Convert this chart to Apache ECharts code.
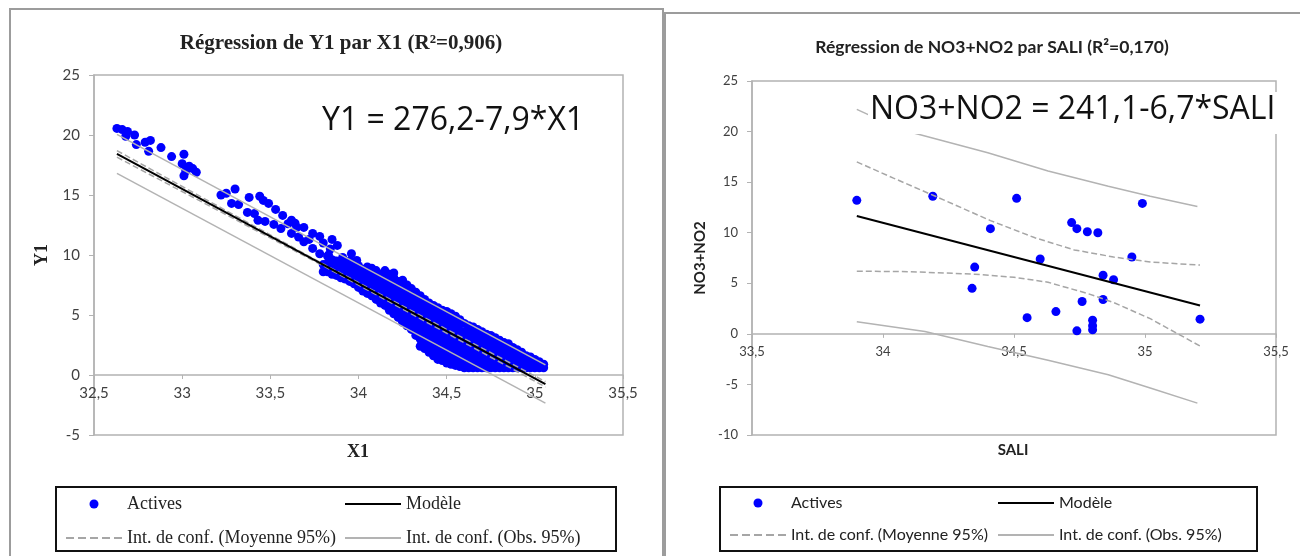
<!DOCTYPE html>
<html>
<head>
<meta charset="utf-8">
<script src="https://cdn.jsdelivr.net/npm/echarts@6/dist/echarts.min.js"></script>
<style>
  body { margin: 0; background: #fff; }
  #left { position: absolute; left: 0; top: 0; width: 664px; height: 556px; }
  #right { position: absolute; left: 663px; top: 0; width: 637px; height: 556px; }
</style>
</head>
<body>
<div id="left"></div>
<div id="right"></div>
<script>
// left chart : Y1 vs X1
var xTicksLeft = [32.5, 35.5, 0.5];
var yTicksLeft = [-5, 25, 5];
var activesLeft = [
  [32.63,20.55],[32.66,20.45],[32.69,20.3],[32.68,19.9],[32.73,20.0],[32.74,19.2],[32.79,19.4],[32.82,19.55],
  [32.81,18.65],[32.88,18.95],[32.94,18.2],[33.01,18.4],[33.0,17.6],[33.02,17.0],[33.01,16.6],[33.06,17.2],
  [33.08,16.9],[33.04,17.4],
  [33.22,15.0],[33.25,15.15],[33.30,15.5],[33.28,14.3],[33.32,14.2],[33.38,14.8],[33.44,14.9],[33.37,13.55],
  [33.41,13.45],[33.46,14.55],[33.49,14.3],[33.53,13.8],[33.43,12.9],[33.47,12.8],[33.52,12.55],[33.57,13.3],
  [33.62,12.9],[33.64,12.65],[33.65,12.3],[33.69,12.3],[33.62,11.8],[33.66,11.5],[33.74,11.8],[33.78,11.55],
  [33.85,11.3],[33.88,10.8],[33.80,11.0],[33.69,11.1],[33.74,10.55],[33.78,10.1],[33.83,10.0],[33.91,9.8],
  [33.96,10.1],[33.99,9.55],[33.56,12.2],[33.60,12.6],[33.72,11.3],[33.84,10.5],
  [33.80,8.6],[33.80,9.2],
  [33.825,8.6],[33.825,9.3],[33.825,9.9],
  [33.85,8.4],[33.85,9.0],[33.85,9.6],
  [33.875,8.3],[33.875,8.9],[33.875,9.5],
  [33.90,8.1],[33.90,8.7],[33.90,9.3],
  [33.925,8.0],[33.925,8.6],[33.925,9.2],
  [33.95,7.8],[33.95,8.4],[33.95,9.0],[33.95,9.5],
  [33.975,7.6],[33.975,8.2],[33.975,8.8],[33.975,9.4],
  [34.00,7.3],[34.00,7.9],[34.00,8.5],[34.00,9.1],
  [34.025,7.0],[34.025,7.6],[34.025,8.2],[34.025,8.8],
  [34.05,6.8],[34.05,7.4],[34.05,8.0],[34.05,8.6],[34.05,9.0],
  [34.075,6.6],[34.075,7.2],[34.075,7.8],[34.075,8.4],[34.075,8.9],
  [34.10,6.3],[34.10,6.9],[34.10,7.5],[34.10,8.1],[34.10,8.7],
  [34.125,6.0],[34.125,6.6],[34.125,7.2],[34.125,7.8],[34.125,8.4],
  [34.15,5.8],[34.15,6.4],[34.15,7.0],[34.15,7.6],[34.15,8.2],[34.15,8.7],
  [34.175,5.4],[34.175,6.0],[34.175,6.6],[34.175,7.2],[34.175,7.8],[34.175,8.4],
  [34.20,5.1],[34.20,5.7],[34.20,6.3],[34.20,6.9],[34.20,7.5],[34.20,8.1],[34.20,8.5],
  [34.225,4.8],[34.225,5.4],[34.225,6.0],[34.225,6.6],[34.225,7.2],[34.225,7.8],
  [34.25,4.4],[34.25,5.0],[34.25,5.6],[34.25,6.2],[34.25,6.8],[34.25,7.4],[34.25,7.9],
  [34.275,4.1],[34.275,4.7],[34.275,5.3],[34.275,5.9],[34.275,6.5],[34.275,7.1],[34.275,7.5],
  [34.30,3.8],[34.30,4.4],[34.30,5.0],[34.30,5.6],[34.30,6.2],[34.30,6.8],[34.30,7.2],
  [34.325,3.3],[34.325,3.9],[34.325,4.5],[34.325,5.1],[34.325,5.7],[34.325,6.3],[34.325,6.9],
  [34.35,2.4],[34.35,3.0],[34.35,3.6],[34.35,4.2],[34.35,4.8],[34.35,5.4],[34.35,6.0],[34.35,6.6],
  [34.375,2.2],[34.375,2.8],[34.375,3.4],[34.375,4.0],[34.375,4.6],[34.375,5.2],[34.375,5.8],[34.375,6.3],
  [34.40,1.9],[34.40,2.5],[34.40,3.1],[34.40,3.7],[34.40,4.3],[34.40,4.9],[34.40,5.5],[34.40,6.0],
  [34.425,1.6],[34.425,2.2],[34.425,2.8],[34.425,3.4],[34.425,4.0],[34.425,4.6],[34.425,5.2],[34.425,5.8],
  [34.45,1.3],[34.45,1.9],[34.45,2.5],[34.45,3.1],[34.45,3.7],[34.45,4.3],[34.45,4.9],[34.45,5.6],
  [34.475,1.2],[34.475,1.8],[34.475,2.4],[34.475,3.0],[34.475,3.6],[34.475,4.2],[34.475,4.8],[34.475,5.4],
  [34.50,1.0],[34.50,1.6],[34.50,2.2],[34.50,2.8],[34.50,3.4],[34.50,4.0],[34.50,4.6],[34.50,5.3],
  [34.525,0.9],[34.525,1.5],[34.525,2.1],[34.525,2.7],[34.525,3.3],[34.525,3.9],[34.525,4.5],[34.525,5.1],
  [34.55,0.8],[34.55,1.4],[34.55,2.0],[34.55,2.6],[34.55,3.2],[34.55,3.8],[34.55,4.4],[34.55,4.9],
  [34.575,0.7],[34.575,1.3],[34.575,1.9],[34.575,2.5],[34.575,3.1],[34.575,3.7],[34.575,4.3],[34.575,4.6],
  [34.60,0.6],[34.60,1.2],[34.60,1.8],[34.60,2.4],[34.60,3.0],[34.60,3.6],[34.60,4.3],
  [34.625,0.6],[34.625,1.2],[34.625,1.8],[34.625,2.4],[34.625,3.0],[34.625,3.6],[34.625,4.1],
  [34.65,0.6],[34.65,1.2],[34.65,1.8],[34.65,2.4],[34.65,3.0],[34.65,3.5],[34.65,4.0],
  [34.675,0.6],[34.675,1.2],[34.675,1.8],[34.675,2.4],[34.675,3.0],[34.675,3.5],[34.675,3.8],
  [34.70,0.6],[34.70,1.2],[34.70,1.8],[34.70,2.4],[34.70,3.0],[34.70,3.6],
  [34.725,0.6],[34.725,1.2],[34.725,1.8],[34.725,2.4],[34.725,3.0],[34.725,3.4],
  [34.75,0.6],[34.75,1.2],[34.75,1.8],[34.75,2.4],[34.75,3.0],[34.75,3.3],
  [34.775,0.6],[34.775,1.2],[34.775,1.8],[34.775,2.4],[34.775,2.9],[34.775,3.1],
  [34.80,0.6],[34.80,1.2],[34.80,1.8],[34.80,2.4],[34.80,2.9],
  [34.825,0.6],[34.825,1.2],[34.825,1.8],[34.825,2.4],[34.825,2.7],
  [34.85,0.6],[34.85,1.2],[34.85,1.8],[34.85,2.4],[34.85,2.6],
  [34.875,0.6],[34.875,1.2],[34.875,1.8],[34.875,2.3],
  [34.90,0.6],[34.90,1.1],[34.90,1.6],[34.90,2.1],
  [34.925,0.6],[34.925,1.1],[34.925,1.6],[34.925,1.9],
  [34.95,0.6],[34.95,1.1],[34.95,1.6],
  [34.975,0.6],[34.975,1.1],[34.975,1.5],
  [35.00,0.6],[35.00,1.0],[35.00,1.3],
  [35.025,0.6],[35.025,0.9],[35.025,1.1],
  [35.05,0.6],[35.05,0.9]
];
var modelLeft = [[32.63,18.42],[35.06,-0.77]];
var meanUpLeft = [[32.63,18.7],[33.8,9.25],[35.06,-0.55]];
var meanLowLeft = [[32.63,18.15],[33.8,9.1],[35.06,-1.0]];
var obsUpLeft = [[32.63,20.05],[35.06,0.85]];
var obsLowLeft = [[32.63,16.8],[35.06,-2.35]];

// right chart : NO3+NO2 vs SALI
var xTicksRight = [33.5, 35.5, 0.5];
var yTicksRight = [-10, 25, 5];
var sali = [33.90,34.19,34.51,34.99,34.41,34.72,34.74,34.78,34.82,34.60,34.95,34.35,34.34,34.84,34.88,34.84,34.76,34.55,34.66,34.80,34.80,34.80,34.74,35.21];
var no3no2 = [13.2,13.6,13.4,12.9,10.4,11.0,10.4,10.1,10.0,7.4,7.6,6.6,4.5,5.8,5.35,3.4,3.2,1.6,2.2,1.35,0.8,0.4,0.3,1.45];
var modelRight = [[33.9,11.65],[35.21,2.8]];
var meanUpRight = [[33.9,17.0],[34.04,15.4],[34.2,13.6],[34.41,11.2],[34.58,9.5],[34.73,8.3],[34.88,7.6],[35.02,7.1],[35.21,6.8]];
var meanLowRight = [[33.9,6.2],[34.1,6.15],[34.35,5.9],[34.5,5.6],[34.63,5.1],[34.78,4.0],[34.88,3.1],[35.02,1.5],[35.21,-1.2]];
var obsUpRight = [[33.9,22.2],[33.95,21.6],[34.11,19.9],[34.4,17.9],[34.63,16.1],[34.86,14.6],[35.02,13.6],[35.2,12.6]];
var obsLowRight = [[33.9,1.2],[34.16,0.23],[34.4,-1.25],[34.63,-2.6],[34.86,-4.05],[35.02,-5.35],[35.2,-6.85]];

var comma = function (v) { return String(v).replace('.', ','); };
var axisGrey = '#b3b3b3';

function lineSeries(name, data, color, width, type, z) {
  return {
    name: name, type: 'line', data: data, symbol: 'none', z: z,
    lineStyle: { color: color, width: width, type: type }, itemStyle: { color: color }
  };
}

function buildOption(cfg) {
  var noDot = { opacity: 0 };
  return {
    animation: false,
    title: {
      text: cfg.title, left: cfg.titleX, top: cfg.titleTop, textAlign: 'center',
      textStyle: { fontFamily: cfg.titleFont, fontWeight: 'bold', fontSize: cfg.titleSize, color: '#222' }
    },
    grid: {
      left: cfg.grid[0], top: cfg.grid[1], width: cfg.grid[2], height: cfg.grid[3],
      show: true, borderColor: axisGrey, borderWidth: 1.5
    },
    xAxis: {
      type: 'value', min: cfg.xTicks[0], max: cfg.xTicks[1], interval: cfg.xTicks[2],
      axisLine: { show: true, onZero: true, lineStyle: { color: axisGrey, width: 1.5 } },
      axisTick: { show: true, length: 4, lineStyle: { color: axisGrey } },
      // labels sit under the zero line, not under the frame
      axisLabel: { formatter: comma, margin: cfg.xLabelMargin, fontFamily: 'Lato', fontSize: cfg.tickSize, color: '#404040' },
      splitLine: { show: false }
    },
    yAxis: {
      type: 'value', min: cfg.yTicks[0], max: cfg.yTicks[1], interval: cfg.yTicks[2],
      name: cfg.yName, nameLocation: 'middle', nameGap: cfg.yNameGap, nameRotate: 90,
      nameTextStyle: { fontFamily: cfg.nameFont, fontWeight: 'bold', fontSize: cfg.nameSize, color: '#222' },
      axisLine: { show: true, lineStyle: { color: axisGrey, width: 1.5 } },
      axisTick: { show: true, length: 5, lineStyle: { color: axisGrey } },
      axisLabel: { margin: 14, fontFamily: 'Lato', fontSize: cfg.tickSize, color: '#404040' },
      splitLine: { show: false }
    },
    legend: [
      { data: ['Actives', { name: 'Int. de conf. (Moyenne 95%)', itemStyle: noDot }], left: cfg.legendX[0] },
      { data: [{ name: 'Modèle', itemStyle: noDot }, { name: 'Int. de conf. (Obs. 95%)', itemStyle: noDot }], left: cfg.legendX[1] }
    ].map(function (l) {
      l.orient = 'vertical'; l.top = 495; l.itemWidth = 56; l.itemHeight = 9; l.itemGap = 16;
      l.selectedMode = false; l.padding = 0;
      l.textStyle = { fontFamily: cfg.legendFont, fontSize: cfg.legendSize, color: '#222' };
      return l;
    }),
    series: [
      { name: 'Actives', type: 'scatter', data: cfg.actives, symbolSize: 9, itemStyle: { color: '#0000ff', opacity: 1 }, z: 2 },
      lineSeries('Int. de conf. (Moyenne 95%)', cfg.meanUp, '#a6a6a6', 1.5, 'dashed', 3),
      lineSeries('Int. de conf. (Moyenne 95%)', cfg.meanLow, '#a6a6a6', 1.5, 'dashed', 3),
      lineSeries('Int. de conf. (Obs. 95%)', cfg.obsUp, '#b3b3b3', 1.5, 'solid', 3),
      lineSeries('Int. de conf. (Obs. 95%)', cfg.obsLow, '#b3b3b3', 1.5, 'solid', 3),
      lineSeries('Modèle', cfg.model, '#000', 2, 'solid', 4)
    ],
    graphic: cfg.graphic.concat([
      { type: 'text', z: 100, x: cfg.xNamePos[0], y: cfg.xNamePos[1],
        style: { text: cfg.xName, font: 'bold ' + cfg.nameSize + 'px "' + cfg.nameFont + '"', fill: '#222', textAlign: 'center', textVerticalAlign: 'middle' } }
    ])
  };
}

var chartL = echarts.init(document.getElementById('left'));
chartL.setOption(buildOption({
  title: 'Régression de Y1 par X1 (R²=0,906)', titleX: 336, titleTop: 28, titleFont: 'Liberation Serif', titleSize: 21,
  grid: [94, 75, 529, 360], xTicks: xTicksLeft, yTicks: yTicksLeft, xLabelMargin: -49,
  xName: 'X1', xNamePos: [358, 452], yName: 'Y1', yNameGap: 37, nameFont: 'Liberation Serif', nameSize: 18, tickSize: 15,
  legendX: [65, 344], legendFont: 'Liberation Serif', legendSize: 18,
  actives: activesLeft, model: modelLeft, meanUp: meanUpLeft, meanLow: meanLowLeft, obsUp: obsUpLeft, obsLow: obsLowLeft,
  graphic: [
    { type: 'rect', shape: { x: 10, y: 9, width: 653, height: 600 }, style: { fill: 'none', stroke: '#9c9c9c', lineWidth: 2 } },
    { type: 'rect', z: 1, shape: { x: 56, y: 487, width: 560, height: 64 }, style: { fill: '#fff', stroke: '#111', lineWidth: 2 } },
    { type: 'text', z: 100, x: 322, y: 121, style: { text: 'Y1 = 276,2-7,9*X1', font: '32px "Open Sans"', fill: '#111', textVerticalAlign: 'middle' } }
  ]
}));

var chartR = echarts.init(document.getElementById('right'));
var activesRight = sali.map(function (s, i) { return [s, no3no2[i]]; });
chartR.setOption(buildOption({
  title: 'Régression de NO3+NO2 par SALI (R²=0,170)', titleX: 324, titleTop: 33, titleFont: 'Lato', titleSize: 17.5,
  grid: [89, 81, 524, 354], xTicks: xTicksRight, yTicks: yTicksRight, xLabelMargin: -90,
  xName: 'SALI', xNamePos: [350, 450], yName: 'NO3+NO2', yNameGap: 42, nameFont: 'Lato', nameSize: 15, tickSize: 13,
  legendX: [66, 334], legendFont: 'Lato', legendSize: 16,
  actives: activesRight, model: modelRight, meanUp: meanUpRight, meanLow: meanLowRight, obsUp: obsUpRight, obsLow: obsLowRight,
  graphic: [
    { type: 'rect', shape: { x: 2, y: 13, width: 700, height: 600 }, style: { fill: 'none', stroke: '#9c9c9c', lineWidth: 2 } },
    { type: 'rect', z: 1, shape: { x: 57, y: 487, width: 537, height: 64 }, style: { fill: '#fff', stroke: '#111', lineWidth: 2 } },
    { type: 'rect', z: 99, shape: { x: 205, y: 92, width: 414, height: 42 }, style: { fill: '#fff' } },
    { type: 'text', z: 100, x: 207, y: 110, style: { text: 'NO3+NO2 = 241,1-6,7*SALI', font: '32px "Open Sans"', fill: '#111', textVerticalAlign: 'middle' } }
  ]
}));
</script>
</body>
</html>
